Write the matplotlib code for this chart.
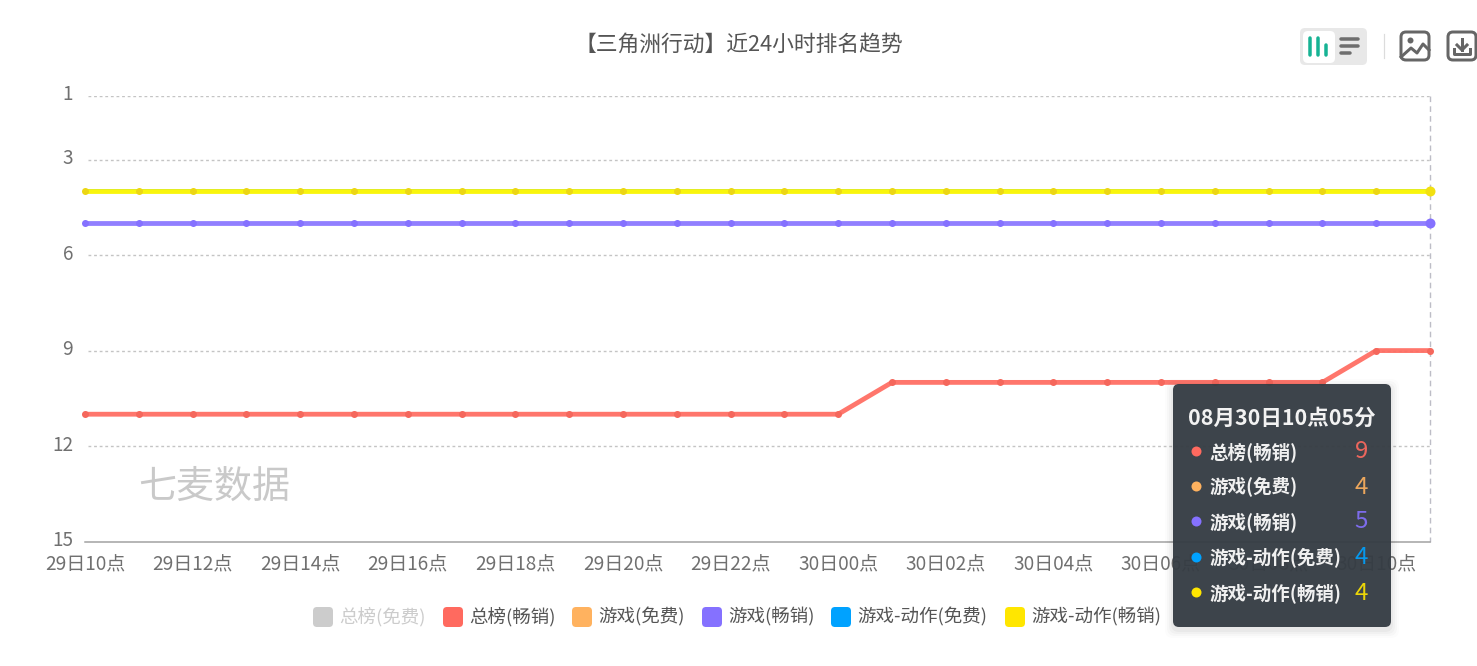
from matplotlib import pyplot as plt
from matplotlib.patches import FancyBboxPatch
from matplotlib.transforms import ScaledTranslation

plt.rcParams['font.family'] = ['Noto Sans CJK SC', 'DejaVu Sans']

W, H = 1477, 666

hours = ['29日10点', '29日11点', '29日12点', '29日13点', '29日14点', '29日15点', '29日16点',
         '29日17点', '29日18点', '29日19点', '29日20点', '29日21点', '29日22点', '29日23点',
         '30日00点', '30日01点', '30日02点', '30日03点', '30日04点', '30日05点', '30日06点',
         '30日07点', '30日08点', '30日09点', '30日10点', '30日11点']
rank_ticks = [1, 3, 6, 9, 12, 15]

total_paid = [11, 11, 11, 11, 11, 11, 11, 11, 11, 11, 11, 11, 11, 11, 11,
              10, 10, 10, 10, 10, 10, 10, 10, 10, 9, 9]
game_free = [4] * 26
game_paid = [5] * 26
action_free = [4] * 26
action_paid = [4] * 26

legend_names = ['总榜(免费)', '总榜(畅销)', '游戏(免费)', '游戏(畅销)', '游戏-动作(免费)', '游戏-动作(畅销)']
legend_colors = ['#cccccc', '#ff6a5f', '#ffb25f', '#8571ff', '#00a2ff', '#ffe600']
legend_x = [313, 443, 572, 702, 831, 1005]

tip_title = '08月30日10点05分'
tip_names = ['总榜(畅销)', '游戏(免费)', '游戏(畅销)', '游戏-动作(免费)', '游戏-动作(畅销)']
tip_values = [9, 4, 5, 4, 4]
tip_colors = ['#ff6a5f', '#ffb25f', '#8571ff', '#00a2ff', '#ffe600']
tip_y = [451, 486, 521, 557, 592]


def px(size):
    return size * 72 / 100.


fig = plt.figure(figsize=(W / 100., H / 100.), dpi=100)
fig.patch.set_facecolor('white')

# chart area
left, right, top, bottom = 85, 1430, 96, 541.5
ax = fig.add_axes([left / W, 1 - bottom / H, (right - left) / W, (bottom - top) / H])
x = list(range(len(hours)))

# yellow goes on last and solid, the free series stay hidden under it
series = [(game_free, '#ffb25f', 0.9, 4.0), (action_free, '#00a2ff', 0.9, 4.0), (game_paid, '#8571ff', 0.9, 4.8),
          (action_paid, '#f9f50c', 1, 4.8), (total_paid, '#ff6a5f', 0.92, 4.8)]
for values, color, a, width in series:
    ax.plot(x, values, '-', color=color, lw=px(width), alpha=a,
            solid_capstyle='round', clip_on=False, zorder=3)

# point markers sit a bit darker than the lines
markers = [(game_paid, '#8571ff'), (action_paid, '#ecd614'), (total_paid, '#f5675c')]
for values, color in markers:
    ax.plot(x, values, 'o', color=color, ms=px(7), mew=0, clip_on=False, zorder=4)

# hover emphasis on the last point
for values, color in [(game_paid, '#8571ff'), (action_paid, '#f2e010')]:
    ax.plot(x[-1], values[-1], 'o', color=color, ms=px(10), mew=0, clip_on=False, zorder=4)

ax.set_xlim(0, len(hours) - 1)
ax.set_ylim(15, 1)
ax.set_xticks(x[::2])
ax.set_xticklabels(hours[::2], fontsize=px(19), color='#707070')
ax.set_yticks(rank_ticks)
ax.set_yticklabels(rank_ticks, fontsize=px(19), color='#707070')
ax.tick_params(axis='both', length=0)
ax.tick_params(axis='x', pad=px(13))
ax.tick_params(axis='y', pad=px(12))
shift = ScaledTranslation(0, 3.5 / 100., fig.dpi_scale_trans)
for label in ax.get_yticklabels():
    label.set_transform(label.get_transform() + shift)

for tick in rank_ticks[:-1]:
    ax.plot([0.05, x[-1]], [tick, tick], color='#c4c4c4', lw=px(1.4), dashes=(2, 2), zorder=1)
ax.plot([x[-1], x[-1]], [1, 15], color='#bdbdc6', lw=px(1.4), dashes=(4, 3), clip_on=False, zorder=1)
for side in ['top', 'right', 'left']:
    ax.spines[side].set_visible(False)
ax.spines['bottom'].set_color('#a0a0a0')
ax.spines['bottom'].set_linewidth(px(1.5))

# overlay in image pixels for the page furniture
ov = fig.add_axes([0, 0, 1, 1], zorder=5)
ov.set_xlim(0, W)
ov.set_ylim(H, 0)
ov.axis('off')
ov.patch.set_alpha(0)

ov.text(739, 45, '【三角洲行动】近24小时排名趋势', fontsize=px(21.8), color='#555555',
        fontweight='medium', ha='center', va='center')
ov.text(138, 487, '七麦数据', fontsize=px(38), color='#c9c9c9', ha='left', va='center')

# legend
for name, color, lx in zip(legend_names, legend_colors, legend_x):
    ov.add_patch(FancyBboxPatch((lx + 3, 610), 14, 14, boxstyle='round,pad=3,rounding_size=4',
                                fc=color, ec='none'))
    text_color = '#cccccc' if color == '#cccccc' else '#555555'
    ov.text(lx + 26, 617, name, fontsize=px(18.5), color=text_color, ha='left', va='center')

# toolbar
ov.add_patch(FancyBboxPatch((1304, 32), 59, 29, boxstyle='round,pad=4,rounding_size=5',
                            fc='#e8e8e8', ec='none'))
ov.add_patch(FancyBboxPatch((1307, 35), 24, 24, boxstyle='round,pad=4,rounding_size=5',
                            fc='white', ec='none'))
for bx, by in [(1309.5, 38), (1317.5, 38), (1325.5, 45)]:
    ov.plot([bx, bx], [by, 55], color='#16b394', lw=px(3.5), solid_capstyle='round')
for by, bx in [(39, 1358), (46, 1358), (53, 1350)]:
    ov.plot([1341, bx], [by, by], color='#6e6e6e', lw=px(3.5), solid_capstyle='round')
ov.plot([1383.5, 1383.5], [34, 58], color='#dcdcdc', lw=px(1.2))

# image icon
ov.add_patch(FancyBboxPatch((1405, 36), 20, 20, boxstyle='round,pad=4,rounding_size=5',
                            fc='white', ec='#666666', lw=px(3)))
ov.plot([1410], [40], 'o', color='#666666', ms=px(6), mew=0)
ov.plot([1401, 1411, 1417, 1423, 1429], [57, 48, 53, 44, 50], color='#666666', lw=px(3),
        solid_joinstyle='round')

# download icon
ov.add_patch(FancyBboxPatch((1452, 36), 20, 20, boxstyle='round,pad=4,rounding_size=5',
                            fc='white', ec='#666666', lw=px(3), clip_on=False))
ov.plot([1462, 1462], [39, 50], color='#666666', lw=px(3))
ov.plot([1457, 1462, 1467], [45, 50, 45], color='#666666', lw=px(3))
ov.plot([1454, 1454, 1470, 1470], [49, 54, 54, 49], color='#666666', lw=px(3))

# tooltip
for grow, a in [(8, 0.012), (6, 0.018), (4, 0.025), (2, 0.03)]:
    ov.add_patch(FancyBboxPatch((1178 - grow, 389 - grow + 3), 208 + 2 * grow, 233 + 2 * grow,
                                boxstyle='round,pad=5,rounding_size=8', fc='black', ec='none', alpha=a))
ov.add_patch(FancyBboxPatch((1178, 389), 208, 233, boxstyle='round,pad=5,rounding_size=6',
                            fc='#363d44', ec='none', alpha=0.96))
ov.text(1282, 418, tip_title, fontsize=px(21.5), color='#f2f2f2', fontweight='bold',
        ha='center', va='center')
for name, value, color, ty in zip(tip_names, tip_values, tip_colors, tip_y):
    ov.plot([1196], [ty], 'o', color=color, ms=px(10), mew=0)
    ov.text(1209, ty + 1, name, fontsize=px(18.5), color='#f0f0f0', fontweight='bold', ha='left', va='center')
    ov.text(1368, ty + 1, str(value), fontsize=px(24), color=color, alpha=0.9, ha='right', va='center')

fig.savefig('out.png', dpi=100)
